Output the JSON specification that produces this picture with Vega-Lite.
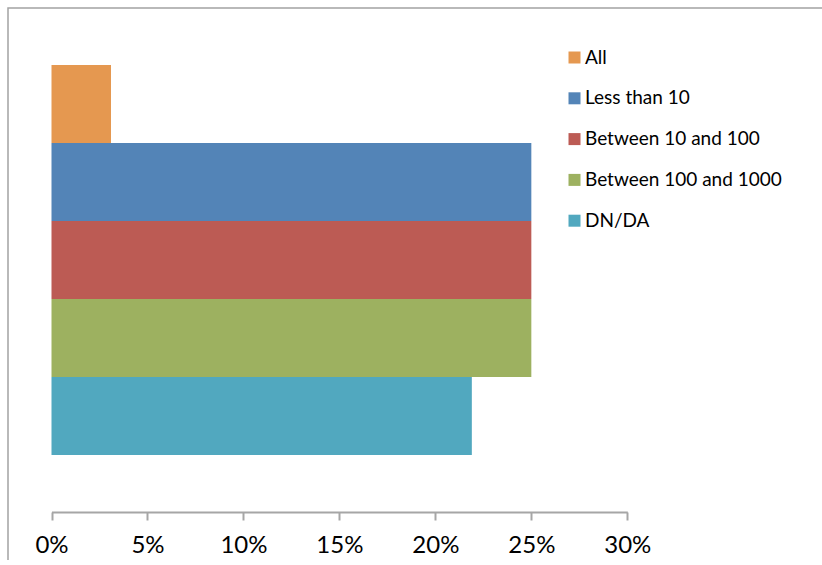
{
  "$schema": "https://vega.github.io/schema/vega-lite/v6.json",
  "width": 834,
  "height": 572,
  "autosize": {"type": "none"},
  "padding": {"left": 8, "top": 8, "right": -20, "bottom": -20},
  "background": "white",
  "config": {
    "view": {"stroke": "#a3a3a3", "strokeWidth": 1.5},
    "font": "Lato"
  },
  "data": {
    "values": [
      {"group": "All", "share": 0.031},
      {"group": "Less than 10", "share": 0.25},
      {"group": "Between 10 and 100", "share": 0.25},
      {"group": "Between 100 and 1000", "share": 0.25},
      {"group": "DN/DA", "share": 0.219}
    ]
  },
  "mark": {"type": "bar"},
  "encoding": {
    "y": {
      "field": "group",
      "type": "nominal",
      "sort": ["All", "Less than 10", "Between 10 and 100", "Between 100 and 1000", "DN/DA"],
      "scale": {"range": [57, 447], "paddingInner": 0, "paddingOuter": 0},
      "axis": null
    },
    "x": {
      "field": "share",
      "type": "quantitative",
      "scale": {"domain": [0, 0.3], "range": [43.5, 619.3], "nice": false},
      "axis": {
        "orient": "bottom",
        "offset": -68,
        "values": [0, 0.05, 0.1, 0.15, 0.2, 0.25, 0.3],
        "format": ".0%",
        "grid": false,
        "title": null,
        "domainColor": "#a6a6a6",
        "domainWidth": 2,
        "tickColor": "#a6a6a6",
        "tickWidth": 2,
        "tickSize": 8,
        "labelFont": "Lato",
        "labelFontSize": 24,
        "labelColor": "#000000",
        "labelFlush": false,
        "labelPadding": 13
      }
    },
    "color": {
      "field": "group",
      "type": "nominal",
      "sort": ["All", "Less than 10", "Between 10 and 100", "Between 100 and 1000", "DN/DA"],
      "scale": {
        "domain": ["All", "Less than 10", "Between 10 and 100", "Between 100 and 1000", "DN/DA"],
        "range": ["#e59850", "#5384b7", "#bc5b54", "#9db160", "#51a8bf"]
      },
      "legend": {
        "orient": "none",
        "legendX": 557,
        "legendY": 40,
        "title": null,
        "symbolType": "square",
        "symbolSize": 144,
        "symbolStrokeWidth": 0,
        "labelFont": "Lato",
        "labelFontSize": 19,
        "labelLimit": 400,
        "labelColor": "#000000",
        "labelOffset": 1,
        "rowPadding": 20.8
      }
    }
  }
}
